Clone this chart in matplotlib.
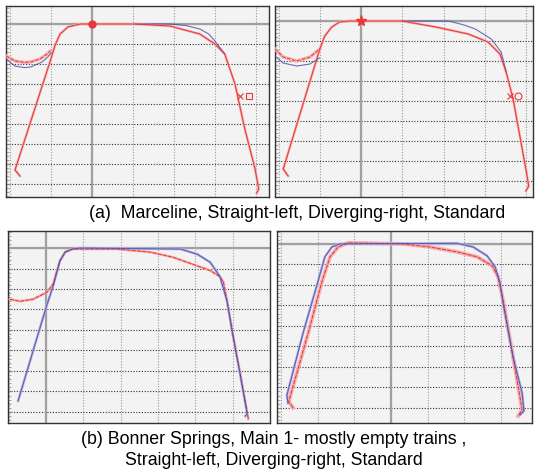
import matplotlib.pyplot as plt
import numpy as np
from matplotlib.ticker import MultipleLocator, AutoMinorLocator

plt.rcParams['font.family'] = ['Liberation Sans', 'DejaVu Sans']

# ---- (a) Marceline, straight (left panel) ----
a1_red_x = [-1.76, -1.88, -1.02, -0.90, -0.78, -0.59, -0.29, 0.0, 1.05, 1.90, 2.63, 3.00, 3.24, 3.49, 3.73, 3.98, 4.07, 4.02]
a1_red_y = [-7.60, -7.30, -1.85, -1.05, -0.50, -0.15, 0.0, 0.0, 0.0, -0.10, -0.50, -1.00, -1.50, -3.00, -5.25, -7.25, -8.25, -8.45]
a1_blue_x = [1.05, 1.90, 2.30, 2.63, 2.85, 3.00, 3.24]
a1_blue_y = [0.0, 0.0, -0.08, -0.25, -0.50, -0.85, -1.50]
a1_dip_red_x = [-2.10, -1.88, -1.65, -1.50, -1.27, -1.10, -1.02]
a1_dip_red_y = [-1.60, -1.85, -1.92, -1.90, -1.75, -1.50, -1.35]
a1_dip_blue_x = [-2.10, -1.88, -1.65, -1.50, -1.22, -1.08, -1.00]
a1_dip_blue_y = [-1.75, -2.10, -2.18, -2.15, -1.90, -1.65, -1.45]
a1_mark_x = [3.62, 3.82]
a1_mark_y = [-3.60, -3.60]

# ---- (a) Marceline, diverging (right panel) ----
a2_red_x = [-1.78, -1.90, -1.01, -0.89, -0.72, -0.53, -0.29, 0.0, 0.99, 1.81, 2.60, 3.08, 3.37, 3.52, 3.69, 3.88, 4.00, 4.07, 4.00]
a2_red_y = [-7.75, -7.40, -1.40, -0.75, -0.30, -0.05, 0.0, 0.0, 0.0, -0.30, -0.65, -1.05, -1.65, -2.55, -3.90, -6.05, -7.40, -8.25, -8.50]
a2_blue_x = [0.99, 2.12, 2.50, 2.77, 3.16, 3.40, 3.52]
a2_blue_y = [0.0, 0.0, -0.20, -0.40, -0.90, -1.55, -2.55]
a2_dip_red_x = [-2.10, -1.90, -1.57, -1.25, -1.01]
a2_dip_red_y = [-1.40, -1.80, -2.00, -1.80, -1.40]
a2_dip_blue_x = [-2.10, -1.90, -1.57, -1.25, -1.02]
a2_dip_blue_y = [-1.75, -2.10, -2.25, -2.15, -1.85]
a2_mark_x = [3.62, 3.82]
a2_mark_y = [-3.75, -3.75]

# ---- (b) Bonner Springs, straight (left panel) ----
b1_blue_x = [-0.75, 0.0, 0.19, 0.37, 0.51, 0.70, 0.91, 3.60, 4.05, 4.40, 4.66, 4.85, 5.00, 5.20, 5.39, 5.34]
b1_blue_y = [-7.46, -2.90, -1.85, -0.63, -0.20, -0.05, 0.0, -0.05, -0.30, -0.70, -1.40, -2.60, -4.20, -6.15, -8.10, -8.20]
b1_red_x = [-0.97, -0.70, -0.35, 0.03, 0.19, 0.37, 0.51, 0.70, 1.90, 2.79, 3.40, 3.94, 4.40, 4.66, 4.75, 4.85, 5.00, 5.20, 5.42]
b1_red_y = [-2.50, -2.60, -2.50, -2.15, -1.75, -0.63, -0.20, -0.05, -0.05, -0.20, -0.45, -0.80, -1.10, -1.40, -1.65, -2.60, -4.20, -6.15, -8.35]

# ---- (b) Bonner Springs, diverging (right panel) ----
b2_blue_x = [-2.82, -2.85, -2.41, -2.00, -1.81, -1.62, -1.40, 1.81, 2.25, 2.63, 2.85, 2.99, 3.07, 3.34, 3.59, 3.64, 3.53]
b2_blue_y = [-7.77, -7.38, -4.37, -1.84, -0.63, -0.15, 0.0, 0.03, -0.15, -0.58, -1.12, -1.94, -2.90, -5.50, -7.28, -8.15, -8.35]
b2_red_x = [-2.68, -2.80, -2.27, -1.89, -1.67, -1.45, -1.18, 0.33, 1.07, 1.81, 2.36, 2.77, 2.93, 3.07, 3.34, 3.59, 3.48]
b2_red_y = [-8.00, -7.70, -4.37, -1.84, -0.63, -0.15, 0.05, 0.0, -0.15, -0.39, -0.63, -1.07, -1.60, -2.77, -5.50, -8.10, -8.40]

captions = ['(a)  Marceline, Straight-left, Diverging-right, Standard',
            '(b) Bonner Springs, Main 1- mostly empty trains ,\nStraight-left, Diverging-right, Standard']

RED = '#e8383a'
PINK = '#f6b0b0'
BLUE = '#4a4aa8'
LIGHTBLUE = '#b4b4e4'


def setup(ax, xlim, ylim):
    ax.set_facecolor('#f3f3f3')
    ax.set_xlim(*xlim)
    ax.set_ylim(*ylim)
    ax.xaxis.set_major_locator(MultipleLocator(1))
    ax.yaxis.set_major_locator(MultipleLocator(1))
    ax.yaxis.set_minor_locator(AutoMinorLocator(5))
    ax.grid(True, axis='y', color='#333333', linestyle=(0, (1, 1.5)), linewidth=0.8)
    ax.grid(True, axis='x', color='#999999', linestyle=(0, (1, 1.5)), linewidth=0.8)
    ax.axhline(0, color='#a0a0a0', linewidth=1.6, zorder=2)
    ax.axvline(0, color='#a0a0a0', linewidth=1.6, zorder=2)
    ax.tick_params(axis='both', which='both', direction='in', labelleft=False, labelbottom=False)
    ax.tick_params(axis='y', which='major', length=3, color='#888888')
    ax.tick_params(axis='y', which='minor', length=2, color='#999999')
    ax.tick_params(axis='x', length=0)
    for s in ax.spines.values():
        s.set_color('#333333')
        s.set_linewidth(1.0)


def draw_profile(ax, x, y, dashed=False):
    ax.plot(x, y, color=PINK, lw=1.8, zorder=3)
    ax.plot(x, y, color=RED, lw=0.75, ls=(0, (4, 1)) if dashed else '-', zorder=5)


fig = plt.figure(figsize=(5.35, 4.77), dpi=100)

ax1 = fig.add_axes([0.0112, 0.5849, 0.4916, 0.4004])
setup(ax1, (-2.1, 4.32), (-8.65, 0.9))
ax1.plot(a1_dip_red_x, a1_dip_red_y, color=PINK, lw=2.4, zorder=3)
ax1.plot(a1_dip_red_x, a1_dip_red_y, color=RED, lw=0.7, ls='--', zorder=4)
ax1.plot(a1_dip_blue_x, a1_dip_blue_y, color=BLUE, lw=0.8, alpha=0.8, zorder=4)
ax1.plot(a1_blue_x, a1_blue_y, color=BLUE, lw=0.8, alpha=0.8, zorder=4)
draw_profile(ax1, a1_red_x, a1_red_y)
ax1.plot([0], [0], marker='o', color=RED, ms=5, zorder=6)
ax1.plot(a1_mark_x[:1], a1_mark_y[:1], marker='x', color=RED, ms=5, mew=0.8, zorder=6)
ax1.plot(a1_mark_x[1:], a1_mark_y[1:], marker='s', mfc='none', color=RED, ms=5, mew=0.8, zorder=6)

ax2 = fig.add_axes([0.514, 0.5849, 0.482, 0.4004])
setup(ax2, (-2.1, 4.17), (-8.8, 0.75))
ax2.plot(a2_dip_red_x, a2_dip_red_y, color=PINK, lw=2.4, zorder=3)
ax2.plot(a2_dip_red_x, a2_dip_red_y, color=RED, lw=0.7, ls='--', zorder=4)
ax2.plot(a2_dip_blue_x, a2_dip_blue_y, color=BLUE, lw=0.8, alpha=0.8, zorder=4)
ax2.plot(a2_blue_x, a2_blue_y, color=BLUE, lw=0.8, alpha=0.8, zorder=4)
draw_profile(ax2, a2_red_x, a2_red_y)
ax2.plot([0], [0], marker='*', color=RED, ms=8, zorder=6)
ax2.plot(a2_mark_x[:1], a2_mark_y[:1], marker='x', color=RED, ms=5, mew=0.8, zorder=6)
ax2.plot(a2_mark_x[1:], a2_mark_y[1:], marker='o', mfc='none', color=RED, ms=5, mew=0.8, zorder=6)

ax3 = fig.add_axes([0.015, 0.1111, 0.4897, 0.4025])
setup(ax3, (-1.02, 6.0), (-8.54, 0.83))
draw_profile(ax3, b1_red_x, b1_red_y, dashed=True)
ax3.plot(b1_blue_x, b1_blue_y, color=LIGHTBLUE, lw=1.8, zorder=3)
ax3.plot(b1_blue_x, b1_blue_y, color=BLUE, lw=0.8, alpha=0.8, zorder=5)

ax4 = fig.add_axes([0.5178, 0.1111, 0.4766, 0.4025])
setup(ax4, (-3.12, 3.86), (-8.74, 0.63))
ax4.plot(b2_red_x, b2_red_y, color=PINK, lw=2.8, zorder=3)
ax4.plot(b2_red_x, b2_red_y, color=RED, lw=0.75, ls=(0, (4, 1)), zorder=4)
ax4.plot(b2_blue_x, b2_blue_y, color=LIGHTBLUE, lw=1.8, zorder=3)
ax4.plot(b2_blue_x, b2_blue_y, color=BLUE, lw=0.8, alpha=0.8, zorder=5)

fig.text(297 / 535, 1 - 213 / 477, captions[0], ha='center', va='center', fontsize=12.8)
fig.text(274 / 535, 1 - 450 / 477, captions[1], ha='center', va='center', fontsize=12.8, linespacing=1.25)

fig.savefig('out.png', dpi=100)
